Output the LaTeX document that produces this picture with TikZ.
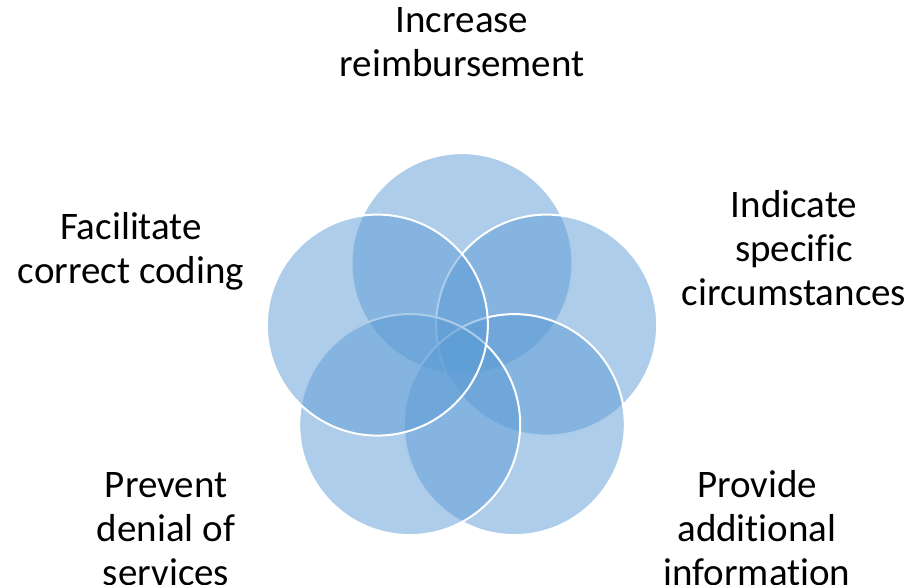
\documentclass[tikz,border=0pt]{standalone}
\usepackage{fontspec}
\setmainfont{Carlito}[Ligatures=NoCommon]
\usetikzlibrary{calc}
\definecolor{vennblue}{RGB}{91,155,213}
\begin{document}
\begin{tikzpicture}[x=1pt,y=1pt,
  venn/.style={circle, inner sep=0pt, minimum size=221pt, fill=vennblue, fill opacity=0.5, draw=white, line width=2pt},
  lbl/.style={align=center, font=\fontsize{39}{44}\selectfont, inner sep=0pt, anchor=base, text=black}]
\useasboundingbox (0,0) rectangle (912,-584);
\coordinate (ctr) at (462,-352.6);
\node[venn] (ctop) at ($(ctr)+(90:89)$) {};
\node[venn] (cright) at ($(ctr)+(18:89)$) {};
\node[venn] (cbr) at ($(ctr)+(-54:89)$) {};
\node[venn] (cbl) at ($(ctr)+(-126:89)$) {};
\node[venn] (cleft) at ($(ctr)+(162:89)$) {};
\node[lbl] (ltop) at (462,-76) {Increase\\reimbursement};
\node[lbl] (lleft) at (131,-283) {Facilitate\\correct coding};
\node[lbl] (lright) at (794,-305) {Indicate\\specific\\circumstances};
\node[lbl] (lbl) at (166,-585) {Prevent\\denial of\\services};
\node[lbl] (lbr) at (757,-585) {Provide\\additional\\information};
\end{tikzpicture}
\end{document}
